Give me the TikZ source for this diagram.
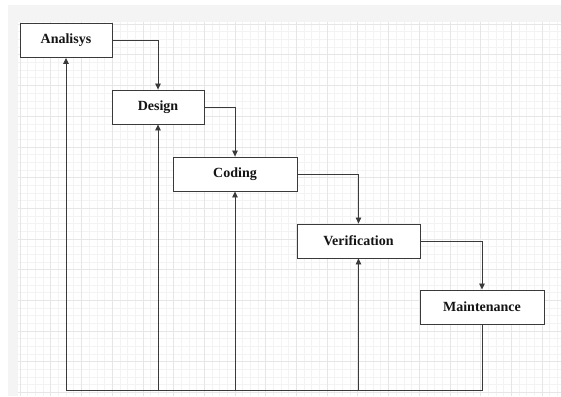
\documentclass[tikz,border=0pt]{standalone}
\usepackage{fontspec}
\setmainfont{Liberation Serif}
\usetikzlibrary{arrows.meta}
\definecolor{linec}{HTML}{3A3A3A}
\definecolor{gridminor}{HTML}{F3F3F3}
\definecolor{gridmajor}{HTML}{E6E6E6}
\definecolor{bandc}{HTML}{F4F4F4}
\tikzset{
  phase/.style={draw=linec, line width=0.9pt, fill=white, minimum height=34pt, inner sep=0pt,
    font=\fontsize{14}{16}\selectfont\bfseries, text=black!92},
  arr/.style={draw=linec, line width=0.8pt, -{Triangle[length=6pt,width=5.5pt]}},
  link/.style={draw=linec, line width=0.8pt}
}
\begin{document}
\begin{tikzpicture}[x=1pt,y=-1pt]
\useasboundingbox (0,0) rectangle (561,396);
\fill[white] (0,0) rectangle (561,396);
\fill[bandc] (8,5) rectangle (561,396);
\fill[white] (18,22) rectangle (561,396);
\begin{scope}
\clip (18,22) rectangle (561,396);
\foreach \k in {-1,...,71} \draw[gridminor, line width=0.5pt] ({20+7.675*\k},22) -- ({20+7.675*\k},396);
\foreach \k in {-1,...,49} \draw[gridminor, line width=0.5pt] (18,{24+7.675*\k}) -- (561,{24+7.675*\k});
\foreach \k in {0,...,17} \draw[gridmajor, line width=0.6pt] ({20+30.7*\k},22) -- ({20+30.7*\k},396);
\foreach \k in {0,...,12} \draw[gridmajor, line width=0.6pt] (18,{24+30.7*\k}) -- (561,{24+30.7*\k});
\end{scope}

\node[phase, minimum width=92pt]  (A) at (66,40.5)  {Analisys};
\node[phase, minimum width=92pt]  (D) at (158,107)  {Design};
\node[phase, minimum width=124pt] (C) at (235,174)  {Coding};
\node[phase, minimum width=123pt] (V) at (358.5,241) {Verification};
\node[phase, minimum width=124pt] (M) at (482,307)  {Maintenance};

\coordinate (b) at (66,390);

\draw[arr] (A.east) -| (D.north);
\draw[arr] (D.east) -| (C.north);
\draw[arr] (C.east) -| (V.north);
\draw[arr] (V.east) -| (M.north);

\draw[arr] (M.south) |- (b) -- (A.south);
\draw[arr] (D.south |- b) -- (D.south);
\draw[arr] (C.south |- b) -- (C.south);
\draw[arr] (V.south |- b) -- (V.south);
\end{tikzpicture}
\end{document}
